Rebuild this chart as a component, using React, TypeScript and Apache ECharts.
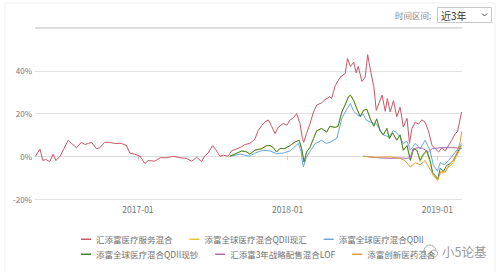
import React, { useEffect, useRef } from 'react';
import * as echarts from 'echarts';

const seriesNames = [
  '汇添富医疗服务混合',
  '添富全球医疗混合QDII现汇',
  '添富全球医疗混合QDII',
  '添富全球医疗混合QDII现钞',
  '汇添富3年战略配售混合LOF',
  '添富创新医药混合',
];
const seriesColors = ['#cc5566', '#e8c33a', '#68a8de', '#3c8734', '#b06ab3', '#e39b3a'];

const xTickLabels = ['2017-01', '2018-01', '2019-01'];
const yTickValues = [-20, 0, 20, 40];

// 汇添富医疗服务混合
const s1Dates = [
  '2016-04-26', '2016-05-07', '2016-05-14', '2016-05-21', '2016-05-31', '2016-06-08', '2016-06-15', '2016-06-25',
  '2016-07-03', '2016-07-15', '2016-07-23', '2016-08-04', '2016-08-16', '2016-08-25', '2016-09-02', '2016-09-10',
  '2016-09-22', '2016-09-30', '2016-10-12', '2016-10-24', '2016-11-05', '2016-11-22', '2016-12-04', '2016-12-12',
  '2016-12-24', '2017-01-06', '2017-01-18', '2017-01-26', '2017-02-11', '2017-02-24', '2017-03-12', '2017-03-28',
  '2017-04-13', '2017-04-29', '2017-05-12', '2017-05-24', '2017-06-05', '2017-06-13', '2017-06-21', '2017-07-02',
  '2017-07-10', '2017-07-20', '2017-07-28', '2017-08-09', '2017-08-17', '2017-08-30', '2017-09-11', '2017-09-19',
  '2017-10-01', '2017-10-13', '2017-10-21', '2017-10-30', '2017-11-07', '2017-11-15', '2017-11-23', '2017-12-01',
  '2017-12-09', '2017-12-21', '2017-12-30', '2018-01-07', '2018-01-15', '2018-01-23', '2018-01-31', '2018-02-06',
  '2018-02-09', '2018-02-16', '2018-02-24', '2018-03-05', '2018-03-13', '2018-03-25', '2018-04-02', '2018-04-14',
  '2018-04-18', '2018-04-27', '2018-05-09', '2018-05-21', '2018-05-27', '2018-06-03', '2018-06-11', '2018-06-17',
  '2018-06-22', '2018-07-01', '2018-07-09', '2018-07-15', '2018-07-23', '2018-07-30', '2018-08-05', '2018-08-10',
  '2018-08-19', '2018-08-27', '2018-09-01', '2018-09-08', '2018-09-16', '2018-09-24', '2018-10-02', '2018-10-10',
  '2018-10-19', '2018-10-25', '2018-10-31', '2018-11-08', '2018-11-16', '2018-11-24', '2018-12-02', '2018-12-10',
  '2018-12-19', '2018-12-27', '2019-01-04', '2019-01-12', '2019-01-20', '2019-01-28', '2019-02-05', '2019-02-13',
  '2019-02-19', '2019-03-01',
];
const s1Values = [
  0, 3.4, -2, -1.5, -2.5, 1, -2, 0,
  3, 7.5, 6, 4, 6.5, 5.5, 6, 6.5,
  3.5, 4, 6.5, 6.5, 6, 6, 5, 1.5,
  1, 0, -3.4, -2, -2.3, -0.7, -0.7, 0,
  -0.7, -1, -2.3, -0.5, -2.5, 0.2, 1.5, 5,
  3, 0, 0.5, 0, 2.5, 3.5, 4.5, 5.5,
  6, 8, 12, 14.5, 16, 17, 14, 10.6,
  13.5, 15.3, 14.5, 17, 18, 20, 15.3, 8.3,
  6.5, 10.6, 15, 20.7, 24, 25, 26.5, 27.8,
  27, 33, 37, 38.7, 45.7, 42, 44, 39,
  42, 35, 37, 47.5, 39, 32.5, 21.5, 24,
  28.6, 21, 27, 20.7, 26, 18.5, 23, 13.7,
  17.7, 6, 13, 16, 15, 17, 16, 12,
  5, 3.5, 2, 4, 2.5, 5, 7.5, 10.5,
  11.5, 20.7,
];

// 添富全球医疗混合QDII现钞 (green) and 现汇 (yellow) share dates
const qdiiUsdDates = [
  '2017-08-13', '2017-08-25', '2017-09-11', '2017-09-23', '2017-10-01', '2017-10-13', '2017-10-30', '2017-11-11',
  '2017-11-19', '2017-11-27', '2017-12-05', '2017-12-13', '2017-12-25', '2018-01-07', '2018-01-19', '2018-01-29',
  '2018-02-04', '2018-02-10', '2018-02-16', '2018-02-24', '2018-03-05', '2018-03-13', '2018-03-25', '2018-04-06',
  '2018-04-14', '2018-04-27', '2018-05-04', '2018-05-13', '2018-05-21', '2018-05-29', '2018-06-03', '2018-06-11',
  '2018-06-19', '2018-06-27', '2018-07-05', '2018-07-13', '2018-07-21', '2018-07-30', '2018-08-06', '2018-08-14',
  '2018-08-22', '2018-08-31', '2018-09-06', '2018-09-14', '2018-09-24', '2018-10-02', '2018-10-10', '2018-10-19',
  '2018-10-27', '2018-11-04', '2018-11-12', '2018-11-20', '2018-11-28', '2018-12-06', '2018-12-14', '2018-12-21',
  '2018-12-27', '2019-01-02', '2019-01-08', '2019-01-16', '2019-01-24', '2019-02-01', '2019-02-09', '2019-02-17',
  '2019-02-26', '2019-03-01',
];
const s4Values = [
  0, 1, 2.5, 2, 1, 2.8, 3.6, 5,
  5, 4, 2, 3.6, 3.6, 5, 6.7, 7.5,
  3.6, -2.7, 2, 4, 8.3, 12, 13, 11.3,
  14, 13.5, 14, 20.7, 24, 27.8, 28.6, 26,
  22, 18.5, 21.5, 22, 17.7, 14, 17.5, 12,
  10, 13, 8.3, 11, 7.5, 10, 2.8, 5,
  -1.9, 3.5, 2.8, -1.9, 1, 2.8, -1.9, -8,
  -9, -10.5, -5.6, -7, -4.2, -3.5, -1.9, 1,
  4.4, 5,
];
const s2Values = [
  0, 1, 2.5, 2, 1, 2.8, 3.6, 5,
  5, 4, 2, 3.6, 3.6, 5, 6.7, 7.5,
  3.6, -2.7, 2, 4, 8.3, 12, 13, 11.3,
  14, 13.5, 14, 20.7, 24, 27.8, 28.6, 26,
  22, 18.5, 21.5, 22, 17.7, 14, 17.5, 12,
  10, 13, 8.3, 11, 7.5, 10, 2.8, 5,
  -1.9, 3.5, 2.8, -2.5, 0.5, 2, -2.5, -9,
  -10, -11.5, -7, -8, -5.5, -4.5, -3, 0,
  3.5, 4,
];

// 添富全球医疗混合QDII (blue)
const s3Dates = [
  '2017-08-13', '2017-09-07', '2017-10-01', '2017-10-13', '2017-11-02', '2017-11-19', '2017-12-05', '2017-12-21',
  '2018-01-07', '2018-01-27', '2018-02-03', '2018-02-08', '2018-02-15', '2018-02-20', '2018-03-09', '2018-03-25',
  '2018-04-05', '2018-04-14', '2018-05-01', '2018-05-13', '2018-05-25', '2018-06-03', '2018-06-11', '2018-06-22',
  '2018-07-05', '2018-07-11', '2018-07-21', '2018-08-06', '2018-08-22', '2018-09-06', '2018-09-15', '2018-09-24',
  '2018-10-02', '2018-10-10', '2018-10-19', '2018-10-27', '2018-11-08', '2018-11-20', '2018-12-02', '2018-12-14',
  '2018-12-22', '2019-01-01', '2019-01-08', '2019-01-18', '2019-01-28', '2019-02-06', '2019-02-16', '2019-03-01',
];
const s3Values = [
  0, 1, 0, 1.5, 2.8, 2.5, 1.2, 1.5,
  2.5, 6, 2, -5, -1, 1, 5.9, 7.5,
  6, 6.5, 8.5, 17.7, 22, 24.7, 21, 19,
  19.5, 17, 16, 15, 10, 9, 12, 11,
  9, 6, 7, 2.8, 6, 3.5, 7.5, 2.8,
  -4, -7, -3, -4, -2, 0, 2.5, 6,
];

// 汇添富3年战略配售混合LOF (purple)
const s5Dates = [
  '2018-07-04', '2018-07-21', '2018-08-14', '2018-09-08', '2018-10-02', '2018-10-19', '2018-10-27', '2018-11-03',
  '2018-11-15', '2018-11-25', '2018-12-10', '2018-12-19', '2019-01-08', '2019-02-01', '2019-02-16', '2019-03-01',
];
const s5Values = [0, -0.3, -0.8, -1, -0.8, -1, -0.5, 3.5, 4, 3.8, 2, 3.5, 4, 4, 4, 3.5];

// 添富创新医药混合 (orange)
const s6Dates = [
  '2018-07-04', '2018-08-02', '2018-09-08', '2018-10-02', '2018-10-14', '2018-10-27', '2018-11-08', '2018-11-20',
  '2018-12-02', '2018-12-14', '2018-12-24', '2019-01-01', '2019-01-11', '2019-01-20', '2019-01-30', '2019-02-09',
  '2019-02-18', '2019-02-26', '2019-03-01',
];
const s6Values = [0, -0.5, -0.3, -1, -2, -5, -3, -4, -2, -6, -9, -11, -7, -7.5, -4, -2, 2, 7, 11.5];

const X_MIN_DATE = '2016-04-25';
const X_MAX_DATE = '2019-03-02';

const FONT = '"Noto Sans CJK SC", "Noto Sans", sans-serif';

function ts(s: string): number {
  const [y, m, d] = s.split('-').map(Number);
  return new Date(y, m - 1, d || 1).getTime();
}

export default function App() {
  const ref = useRef<HTMLDivElement>(null);
  useEffect(() => {
    const chart = echarts.init(ref.current!, null, { renderer: 'svg' });
    const pair = (d: string[], v: number[]) => d.map((x, i) => [ts(x), v[i]]);
    const tickTs = xTickLabels.map((l) => ts(l + '-01'));
    const seriesData = [
      pair(s1Dates, s1Values),
      pair(qdiiUsdDates, s2Values),
      pair(s3Dates, s3Values),
      pair(qdiiUsdDates, s4Values),
      pair(s5Dates, s5Values),
      pair(s6Dates, s6Values),
    ];
    const legendBase = {
      left: 76,
      orient: 'horizontal',
      itemGap: 17,
      itemWidth: 10,
      itemHeight: 1.5,
      icon: 'rect',
      textStyle: { fontSize: 8.5, color: '#707070', fontFamily: FONT },
    };
    chart.setOption({
      animation: false,
      backgroundColor: '#fff',
      textStyle: { fontFamily: FONT },
      color: seriesColors,
      grid: { left: 35, right: 38, top: 28, bottom: 74, containLabel: false },
      legend: [
        { ...legendBase, top: 230, data: seriesNames.slice(0, 3) },
        { ...legendBase, top: 245, data: seriesNames.slice(3, 6) },
      ],
      xAxis: {
        type: 'value',
        min: ts(X_MIN_DATE),
        max: ts(X_MAX_DATE),
        axisLine: { show: true, lineStyle: { color: '#dcdcdc' } },
        axisTick: { show: true, customValues: tickTs, length: 4, lineStyle: { color: '#cfcfcf' } },
        axisLabel: {
          customValues: tickTs,
          fontSize: 8.5,
          color: '#777',
          margin: 6,
          formatter: (v: number) => {
            const d = new Date(v);
            return d.getFullYear() + '-' + String(d.getMonth() + 1).padStart(2, '0');
          },
        },
        splitLine: { show: false },
      },
      yAxis: {
        type: 'value',
        min: -20,
        max: 60,
        interval: 20,
        axisLine: { show: false },
        axisTick: { show: false },
        axisLabel: { customValues: yTickValues, formatter: '{value}%', fontSize: 8, color: '#777', margin: 3 },
        splitLine: { lineStyle: { color: '#e2e2e2', width: 1 } },
      },
      series: seriesNames.map((name, i) => ({
        name,
        type: 'line',
        data: seriesData[i],
        showSymbol: false,
        symbol: 'none',
        lineStyle: { width: 1, color: seriesColors[i] },
        itemStyle: { color: seriesColors[i] },
        z: 2 + i,
      })),
      graphic: [
        { type: 'polyline', shape: { points: [[5, 272], [5, 3], [495, 3], [495, 272]] }, style: { stroke: '#efefef', fill: null, lineWidth: 1 }, silent: true },
        { type: 'rect', shape: { x: 35, y: 27, width: 427, height: 2 }, style: { fill: '#dadada' }, silent: true },
        { type: 'text', x: 395, y: 15, style: { text: '时间区间:', fontSize: 8.5, fill: '#888', fontFamily: FONT, verticalAlign: 'middle' } },
        { type: 'rect', shape: { x: 437.5, y: 7.5, width: 54, height: 15 }, style: { fill: '#fff', stroke: '#c8c8c8', lineWidth: 1 } },
        { type: 'text', x: 441, y: 15, style: { text: '近3年', fontSize: 10, fill: '#333', fontFamily: FONT, verticalAlign: 'middle' } },
        { type: 'polyline', shape: { points: [[482, 13.5], [484.5, 16], [487, 13.5]] }, style: { stroke: '#555', fill: null, lineWidth: 1 } },
        {
          type: 'group',
          children: [
            { type: 'rect', shape: { x: 419, y: 242, width: 72, height: 18 }, style: { fill: 'rgba(255,255,255,0.85)' } },
            { type: 'circle', shape: { cx: 430, cy: 251, r: 6 }, style: { fill: 'rgba(255,255,255,0.9)', stroke: '#aaa', lineWidth: 1 } },
            { type: 'circle', shape: { cx: 434, cy: 253.5, r: 3.5 }, style: { fill: '#fff', stroke: '#aaa', lineWidth: 1 } },
            { type: 'text', x: 442, y: 251.5, style: { text: '小5论基', fontSize: 12.5, fill: '#999', fontFamily: FONT, verticalAlign: 'middle' } },
          ],
        },
      ],
    });
    return () => chart.dispose();
  }, []);
  return (
    <div
      ref={ref}
      style={{ position: 'fixed', left: 0, top: 0, width: 500, height: 273, background: '#fff' }}
    />
  );
}
